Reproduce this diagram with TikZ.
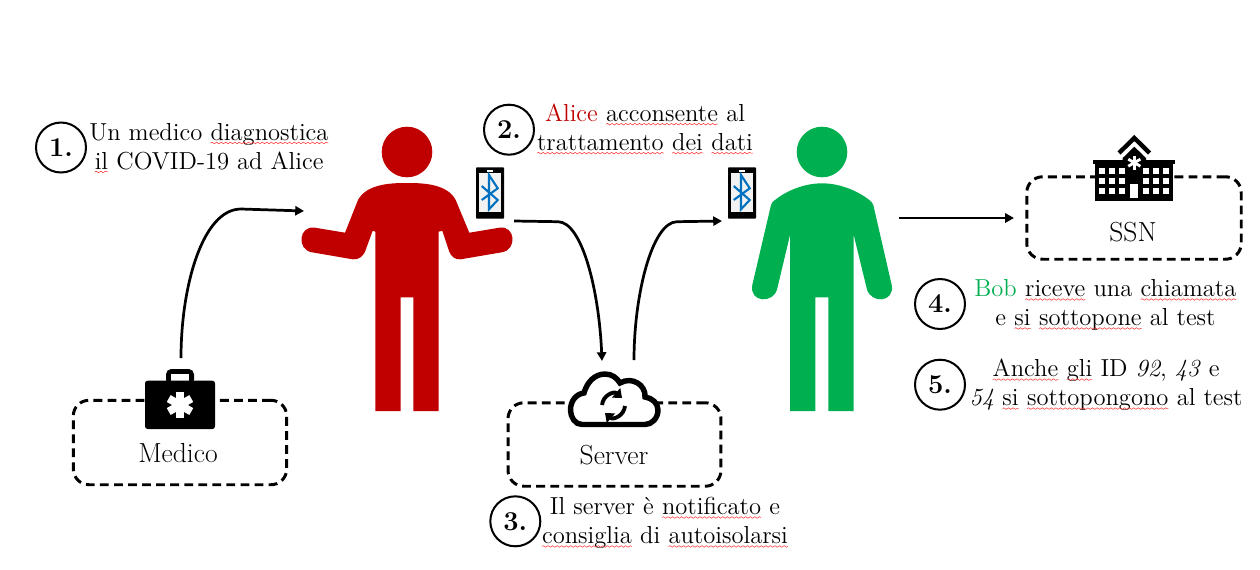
\documentclass[tikz,border=0pt]{standalone}
\usetikzlibrary{arrows.meta,decorations.pathmorphing}
\definecolor{alicered}{HTML}{C00000}
\definecolor{bobgreen}{HTML}{00B050}
\definecolor{btblue}{HTML}{0070C0}
\tikzset{
    stepnum/.style={circle,draw=black,line width=1.15pt,minimum size=1cm,inner sep=0,font=\fontsize{15.5}{18}\selectfont\bfseries},
    steptext/.style={inner sep=0,align=center,font=\fontsize{14}{16.5}\selectfont},
    dashbox/.style={draw=black,line width=1.7pt,dash pattern=on 5pt off 3pt,rounded corners=9pt,inner sep=0},
    boxlabel/.style={inner sep=0,font=\fontsize{15.7}{18}\selectfont},
    flow/.style={line width=1.55pt,-{Triangle[length=5pt,width=5.2pt]}},
    squigline/.style={red!85,line width=0.28pt,decorate,decoration={snake,amplitude=0.45pt,segment length=2.6pt}},
    syncline/.style={line width=2.2pt,-{Triangle[length=4.5pt,width=7pt]}},
    phone/.pic={
        \fill[black,rounded corners=0.5pt] (-14,-25.7) rectangle (14,25.7);
        \fill[black!5] (-10.7,-19.7) rectangle (10.7,19.3);
        \fill[white] (-3.3,-23.3) rectangle (3.3,-21.3);
        \draw[btblue,line width=1.2pt] (-8.3,-7) -- (7.7,7) -- (-1,16.3) -- (-1,-18) -- (7.7,-4.7) -- (-8.3,7);
    }
}
\newcommand{\squig}[1]{\tikz[baseline=(w.base)]{\node[inner sep=0pt,outer sep=0pt](w){#1};\draw[squigline] ([yshift=-1.6pt]w.base west) -- ([yshift=-1.6pt]w.base east);}}
\begin{document}
\begin{tikzpicture}[x=0.02cm,y=-0.02cm]
    \useasboundingbox (0,0) rectangle (1260,569);

    \node[dashbox,minimum width=4.27cm,minimum height=1.69cm] (medicobox) at (180,442.5) {};
    \node[dashbox,minimum width=4.26cm,minimum height=1.67cm] (serverbox) at (614.5,444.5) {};
    \node[dashbox,minimum width=4.29cm,minimum height=1.65cm] (ssnbox) at (1134,218) {};
    \node[boxlabel] (medicolabel) at (178,453) {Medico};
    \node[boxlabel] (serverlabel) at (614,455) {Server};
    \node[boxlabel] (ssnlabel) at (1133,232) {SSN};

    \fill[alicered] (407,152) circle (25.3);
    \fill[alicered] (407,183) .. controls (420,183) and (447,183) .. (455.7,200) -- (469.3,232.7) -- (499.3,227.7)
        .. controls (515.5,225) and (517.5,250) .. (501.7,252.3) -- (460.7,259.3) .. controls (455,260) and (451,256) .. (449.3,251.7)
        -- (442.3,230.7) -- (438.7,231.7) -- (438.7,411) -- (413.3,411) -- (413.3,297.3) -- (400.7,297.3) -- (400.7,411)
        -- (375.3,411) -- (375.3,231.7) -- (372.7,230.7) -- (365,251.7) .. controls (363,256) and (359,260) .. (352.7,259.3)
        -- (312,252.3) .. controls (296.5,250) and (298.5,225) .. (315,227.7) -- (345,232.7) -- (358,200)
        .. controls (367,183) and (394,183) .. (407,183) -- cycle;

    \fill[bobgreen] (822,152) circle (25.3);
    \fill[bobgreen] (822,183.3) .. controls (840,183.3) and (858,191) .. (869.3,200) .. controls (871,201) and (872.5,203) .. (873.3,205)
        -- (891.7,285) .. controls (895,303) and (870,304) .. (866.7,288.3) -- (853.7,235) -- (853.7,411) -- (828.3,411)
        -- (828.3,297.3) -- (815.3,297.3) -- (815.3,411) -- (790,411) -- (790,235) -- (777.3,288.3)
        .. controls (774,304) and (749,303) .. (752.3,285) -- (771,205) .. controls (771.5,203) and (773,201) .. (775,200)
        .. controls (786,191) and (804,183.3) .. (822,183.3) -- cycle;

    \pic at (490,193) {phone};
    \pic at (742,193) {phone};

    \fill[black,rounded corners=3pt] (166,385) -- (166,369) -- (194,369) -- (194,385) -- cycle;
    \fill[white] (171,374) rectangle (189,381);
    \fill[black,rounded corners=1.5pt] (145,380.7) rectangle (215,429);
    \foreach \a in {90,30,150}
        \draw[white,line width=4.5pt] (180,405) ++(\a:13) -- ++(\a+180:26);

    \draw[black,line width=3.1pt,fill=white] (582,424.5) .. controls (575,424.5) and (570.5,417) .. (570.5,410)
        .. controls (570.5,401) and (576,394) .. (584,393) .. controls (587,382) and (595,374) .. (605,374)
        .. controls (612,374) and (617,378) .. (620,383) .. controls (632,376) and (646,385) .. (645,397)
        .. controls (652,398) and (658,403) .. (658,410) .. controls (658,418) and (652,424.5) .. (645,424.5) -- cycle;
    \draw[syncline] (602,405) .. controls (603,395) and (614,391) .. (622,398);
    \draw[syncline] (625,406) .. controls (624,416) and (613,420) .. (605,413);

    \draw[black,line width=2.5pt] (1119,153) -- (1134.3,138) -- (1149.6,153);
    \fill[black] (1134.3,146.7) -- (1146,158) -- (1146,172) -- (1122.7,172) -- (1122.7,158) -- cycle;
    \fill[black] (1093.3,160) rectangle (1175,163.5);
    \fill[black] (1095,163) rectangle (1173,201);
    \foreach \a in {90,30,150}
        \draw[white,line width=1.6pt] (1134.3,162.7) ++(\a:7) -- ++(\a+180:14);
    \foreach \wx in {1099,1109,1119,1142.7,1153.3,1163.3}
        \foreach \wy in {167.7,177.7,187.7}
            \fill[white] (\wx,\wy) rectangle ++(6,6);
    \fill[white] (1130,184) rectangle (1137.7,197.7);

    \node[stepnum] (num1) at (61,147.5) {1.};
    \node[stepnum] (num2) at (509,129.7) {2.};
    \node[stepnum] (num3) at (515.3,521.3) {3.};
    \node[stepnum] (num4) at (940,304) {4.};
    \node[stepnum] (num5) at (940,384.7) {5.};

    \node[steptext] (text1) at (209,148) {Un medico \squig{diagnostica}\\\squig{il} COVID-19 ad Alice};
    \node[steptext] (text2) at (645,129) {\textcolor{alicered}{Alice} \squig{acconsente} al\\\squig{trattamento} \squig{dei} \squig{dati}};
    \node[steptext] (text3) at (665,523) {Il server è \squig{notificato} e\\\squig{consiglia} di \squig{autoisolarsi}};
    \node[steptext] (text4) at (1105.5,305) {\textcolor{bobgreen}{Bob} \squig{riceve} una \squig{chiamata}\\e \squig{si} \squig{sottopone} al test};
    \node[steptext] (text5) at (1106,385) {\squig{Anche} \squig{gli} ID \textit{92}, \textit{43} e\\\textit{54} \squig{si} \squig{sottopongono} al test};

    \coordinate (kittop) at (181,358);
    \coordinate (alicein) at (304,211);
    \coordinate (aliceout) at (514,221);
    \coordinate (serverin) at (602,361);
    \coordinate (serverout) at (634,360);
    \coordinate (bobin) at (722,221);
    \coordinate (bobout) at (899,218);
    \coordinate (ssnin) at (1014,218);

    \draw[flow] (kittop) .. controls (181,285) and (203,209) .. (241,209) -- (alicein);
    \draw[flow] (aliceout) -- (558,221.7) .. controls (582,222) and (599,290) .. (serverin);
    \draw[flow] (serverout) .. controls (634,295) and (652,222) .. (677,221.7) -- (bobin);
    \draw[flow] (bobout) -- (ssnin);
\end{tikzpicture}
\end{document}
